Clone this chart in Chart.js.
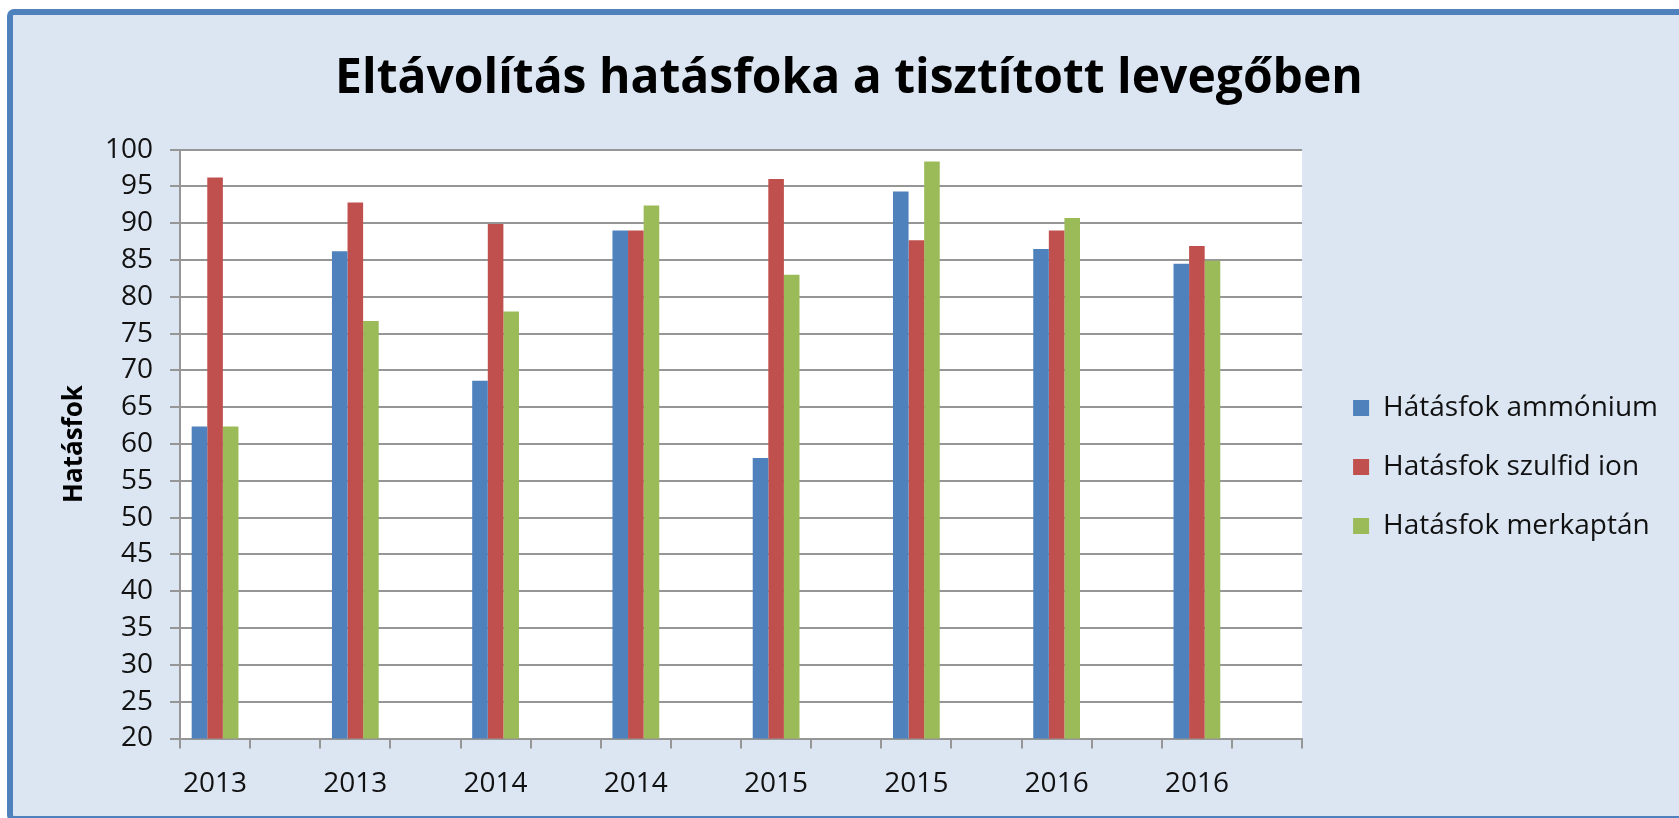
<!DOCTYPE html>
<html><head><meta charset="utf-8">
<script src="https://cdn.jsdelivr.net/npm/chart.js@4.4.1/dist/chart.umd.min.js"></script>
<style>
html,body{margin:0;padding:0;background:#fff;width:1679px;height:818px;overflow:hidden;}
#frame{position:absolute;left:7px;top:9px;width:1720px;height:813px;box-sizing:border-box;border:6px solid #4F81BD;border-radius:7px;background:#DCE6F2;}
#c{position:absolute;left:0;top:0;}
</style></head><body>
<div id="frame"></div>
<canvas id="c" width="1679" height="818"></canvas>
<script>
const chartTitle = 'Eltávolítás hatásfoka a tisztított levegőben';
const yAxisTitle = 'Hatásfok';
const years = ['2013', '2013', '2014', '2014', '2015', '2015', '2016', '2016'];
const seriesNames = ['Hátásfok ammónium', 'Hatásfok szulfid ion', 'Hatásfok merkaptán'];
const ammonium  = [62.4, 86.2, 68.6, 89.0, 58.1, 94.3, 86.5, 84.5];
const szulfid   = [96.2, 92.8, 89.9, 89.0, 96.0, 87.7, 89.0, 86.9];
const merkaptan = [62.4, 76.7, 78.0, 92.4, 83.0, 98.4, 90.7, 84.9];
const seriesColors = ['#4F81BD', '#C0504D', '#9BBB59'];
const yMin = 20, yMax = 100, yStep = 5;

// Each year label is followed by an empty category (as in the original)
const labels = years.flatMap(y => [y, '']);
const spread = arr => arr.flatMap(v => [v, null]);
const seriesValues = [ammonium, szulfid, merkaptan];

const GRID = '#969696';
const FONT = 'Open Sans';

const plotBg = {
  id: 'plotBg',
  beforeDraw(chart) {
    const {ctx, chartArea: a} = chart;
    ctx.save();
    ctx.fillStyle = '#ffffff';
    ctx.fillRect(a.left, a.top, a.right - a.left, a.bottom - a.top);
    ctx.restore();
  }
};

// leave a small gap between the plot area and the legend
const legendGap = {
  id: 'legendGap',
  afterLayout(chart) {
    const l = chart.legend;
    if (!l) return;
    const w = l.width;
    l.left = chart.chartArea.right + 20;
    l.right = l.left + w;
  }
};

function build() {
  Chart.defaults.font.family = FONT;
  Chart.defaults.color = '#111';
  new Chart(document.getElementById('c'), {
    type: 'bar',
    data: {
      labels: labels,
      datasets: seriesNames.map((name, i) => ({
        label: name,
        data: spread(seriesValues[i]),
        backgroundColor: seriesColors[i],
        borderWidth: 0,
        categoryPercentage: 0.667,
        barPercentage: 1.0,
        xAxisID: 'x',
        yAxisID: 'y'
      }))
    },
    options: {
      responsive: false,
      animation: false,
      devicePixelRatio: 1,
      layout: { padding: { left: 50, right: 31, top: 0, bottom: 0 } },
      plugins: {
        title: {
          display: true,
          text: chartTitle,
          color: '#000',
          font: { family: FONT, size: 48, weight: 'bold', lineHeight: 1.2 },
          padding: { top: 51, bottom: 41 }
        },
        legend: {
          position: 'right',
          align: 'center',
          title: { display: true, text: '', font: { size: 30, lineHeight: 1.2 }, padding: 40 },
          labels: {
            boxWidth: 16,
            boxHeight: 16,
            padding: 31,
            color: '#111',
            font: { family: FONT, size: 28 }
          }
        },
        tooltip: { enabled: false }
      },
      scales: {
        x: {
          type: 'category',
          offset: true,
          grid: { display: true, drawOnChartArea: false, drawTicks: true, tickLength: 10, color: GRID, lineWidth: 2, offset: true },
          border: { display: true, color: GRID, width: 2 },
          ticks: { autoSkip: false, maxRotation: 0, minRotation: 0, padding: 19, color: '#111', font: { family: FONT, size: 28 } },
          afterFit(s) { s.height = 79.5; }
        },
        y: {
          type: 'linear',
          position: 'left',
          min: yMin,
          max: yMax,
          grid: { color: GRID, lineWidth: 2, drawTicks: true, tickLength: 10 },
          border: { display: true, color: GRID, width: 2 },
          ticks: { stepSize: yStep, padding: 17, color: '#111', font: { family: FONT, size: 28 } },
          title: { display: true, text: yAxisTitle, color: '#000', font: { family: FONT, size: 26, weight: 'bold', lineHeight: 0.25 }, padding: { top: 21, bottom: 0 } },
          afterFit(s) { s.width = 130; }
        }
      }
    },
    plugins: [plotBg, legendGap]
  });
}

if (document.fonts && document.fonts.load) {
  Promise.all([
    document.fonts.load('bold 48px "Open Sans"'),
    document.fonts.load('28px "Open Sans"')
  ]).then(build, build);
} else { build(); }
</script>
</body></html>
